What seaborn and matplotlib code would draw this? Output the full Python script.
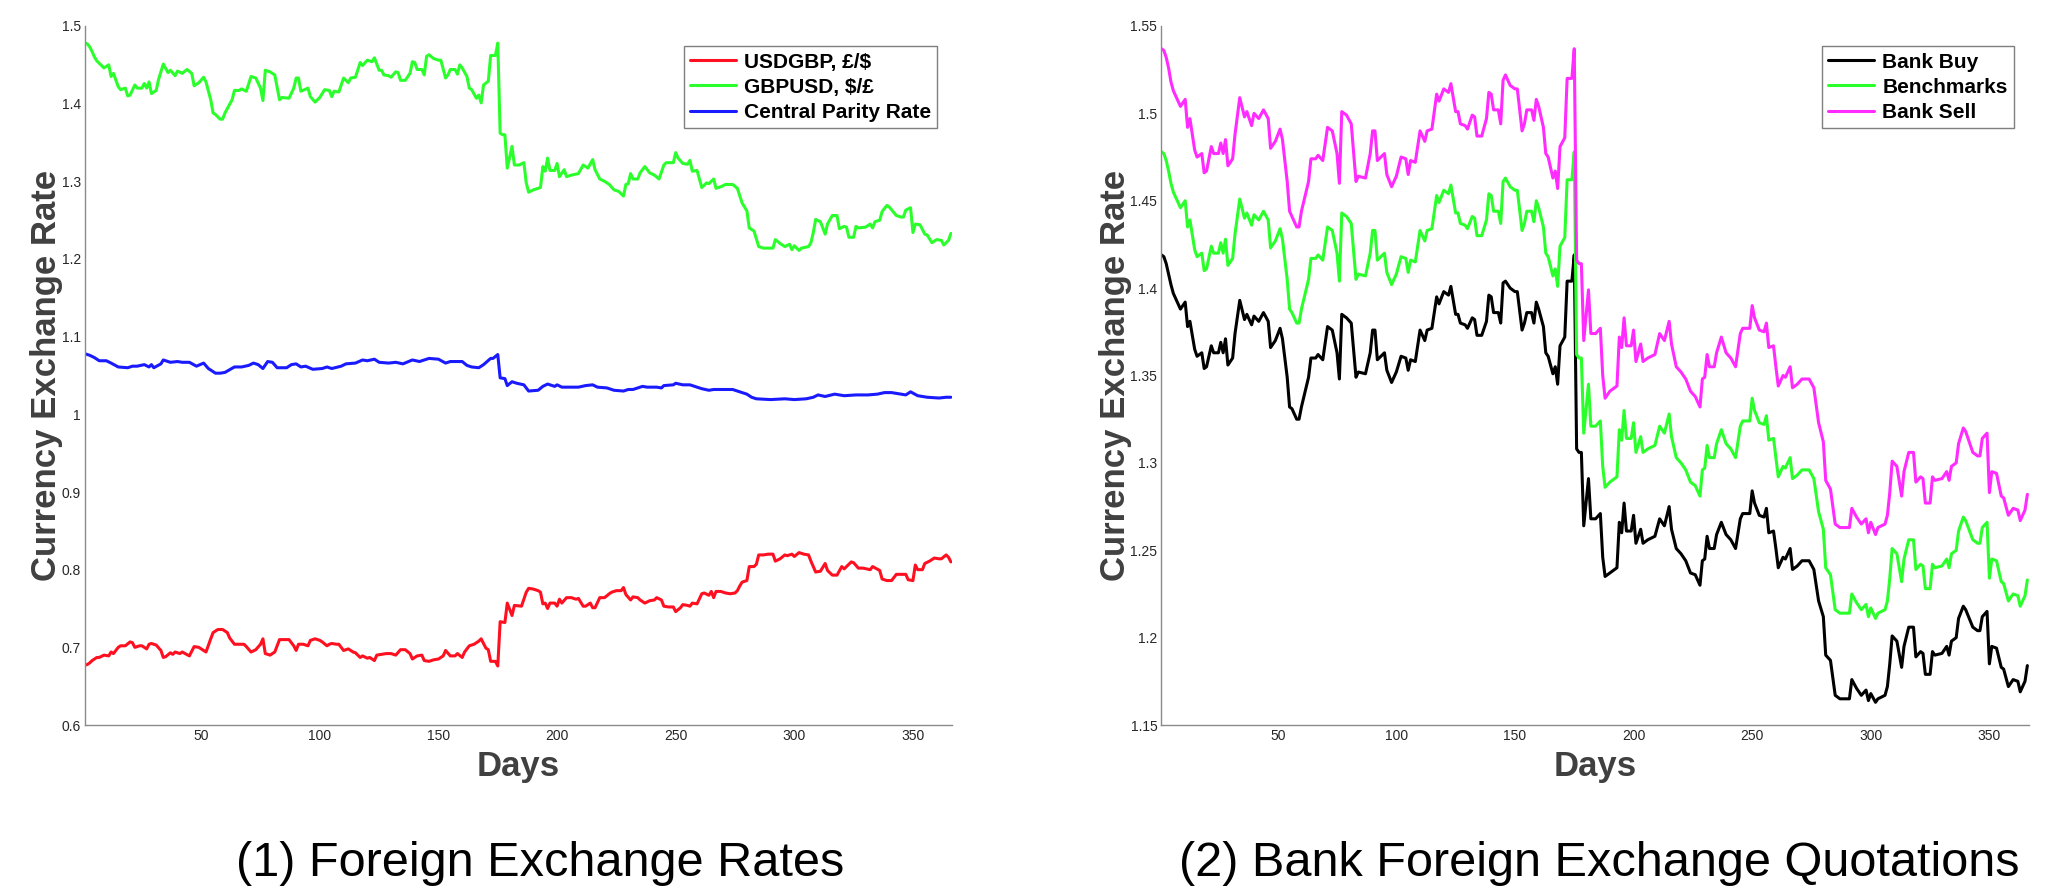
import matplotlib
matplotlib.use("Agg")
import matplotlib.pyplot as plt
import seaborn as sns

# values (day of 2016, rate)
gbpusd_days = [
    1, 2, 3, 4, 5, 6, 7, 9, 11, 12,
    13, 15, 16, 18, 19, 20, 22, 23, 25, 26,
    27, 28, 29, 31, 32, 34, 36, 37, 39, 40,
    42, 44, 46, 47, 49, 51, 52, 54, 55, 56,
    58, 59, 60, 63, 64, 66, 67, 69, 71, 73,
    75, 76, 77, 79, 81, 83, 84, 87, 89, 90,
    91, 92, 95, 96, 98, 100, 102, 104, 105, 106,
    108, 110, 112, 113, 115, 117, 118, 120, 122, 123,
    125, 126, 127, 129, 130, 132, 133, 134, 136, 138,
    139, 140, 141, 143, 144, 145, 146, 148, 150, 151,
    153, 154, 155, 157, 158, 159, 160, 162, 163, 164,
    166, 167, 168, 169, 171, 172, 174, 175, 176, 177,
    178, 179, 181, 182, 184, 186, 187, 188, 190, 193,
    194, 195, 196, 197, 199, 200, 201, 203, 204, 206,
    209, 211, 213, 215, 216, 218, 220, 222, 224, 226,
    228, 229, 230, 231, 232, 234, 235, 237, 239, 241,
    243, 245, 246, 249, 250, 251, 253, 255, 256, 257,
    259, 260, 261, 263, 264, 266, 267, 269, 271, 274,
    276, 278, 280, 281, 283, 285, 287, 289, 291, 292,
    294, 296, 298, 299, 300, 302, 303, 306, 307, 308,
    309, 311, 313, 314, 316, 318, 319, 321, 322, 323,
    325, 326, 327, 330, 332, 333, 334, 336, 337, 339,
    340, 343, 345, 346, 347, 349, 350, 351, 353, 355,
    356, 358, 360, 362, 363, 365, 366,
]
gbpusd = [
    1.478, 1.477, 1.473, 1.467, 1.460, 1.455, 1.452, 1.446, 1.450, 1.435,
    1.439, 1.422, 1.418, 1.420, 1.410, 1.411, 1.424, 1.420, 1.420, 1.426,
    1.420, 1.428, 1.413, 1.417, 1.431, 1.451, 1.440, 1.443, 1.436, 1.442,
    1.439, 1.444, 1.439, 1.423, 1.427, 1.434, 1.428, 1.405, 1.388, 1.386,
    1.380, 1.380, 1.388, 1.405, 1.417, 1.417, 1.419, 1.416, 1.435, 1.433,
    1.420, 1.404, 1.443, 1.441, 1.437, 1.405, 1.408, 1.407, 1.420, 1.433,
    1.433, 1.416, 1.420, 1.409, 1.402, 1.408, 1.418, 1.417, 1.409, 1.416,
    1.415, 1.433, 1.427, 1.433, 1.434, 1.453, 1.449, 1.456, 1.454, 1.459,
    1.443, 1.443, 1.437, 1.436, 1.434, 1.441, 1.440, 1.430, 1.430, 1.439,
    1.454, 1.453, 1.444, 1.444, 1.437, 1.461, 1.463, 1.458, 1.456, 1.456,
    1.433, 1.437, 1.444, 1.444, 1.438, 1.450, 1.446, 1.435, 1.420, 1.418,
    1.407, 1.411, 1.401, 1.424, 1.429, 1.462, 1.462, 1.478, 1.362, 1.360,
    1.360, 1.317, 1.345, 1.321, 1.321, 1.324, 1.298, 1.286, 1.289, 1.292,
    1.319, 1.313, 1.330, 1.314, 1.314, 1.323, 1.306, 1.315, 1.306, 1.308,
    1.310, 1.321, 1.317, 1.328, 1.315, 1.303, 1.300, 1.296, 1.289, 1.287,
    1.281, 1.296, 1.297, 1.310, 1.303, 1.303, 1.311, 1.319, 1.311, 1.308,
    1.303, 1.321, 1.324, 1.324, 1.337, 1.330, 1.323, 1.322, 1.327, 1.313,
    1.314, 1.303, 1.292, 1.298, 1.297, 1.303, 1.291, 1.293, 1.296, 1.296,
    1.291, 1.272, 1.262, 1.240, 1.236, 1.216, 1.214, 1.214, 1.214, 1.225,
    1.220, 1.216, 1.219, 1.212, 1.217, 1.211, 1.214, 1.216, 1.221, 1.234,
    1.251, 1.248, 1.232, 1.245, 1.256, 1.256, 1.239, 1.242, 1.241, 1.228,
    1.228, 1.242, 1.240, 1.241, 1.245, 1.240, 1.248, 1.250, 1.261, 1.269,
    1.267, 1.256, 1.254, 1.254, 1.263, 1.266, 1.234, 1.245, 1.244, 1.232,
    1.231, 1.221, 1.225, 1.224, 1.218, 1.224, 1.233,
]

usdgbp_days = [
    1, 2, 3, 4, 5, 6, 7, 9, 11, 12,
    13, 15, 16, 18, 20, 21, 22, 24, 25, 27,
    28, 29, 31, 33, 34, 35, 37, 38, 39, 41,
    42, 45, 47, 49, 52, 54, 55, 57, 59, 61,
    62, 64, 66, 68, 69, 71, 73, 75, 76, 77,
    79, 81, 83, 85, 87, 89, 90, 91, 93, 95,
    96, 98, 100, 101, 103, 104, 105, 107, 108, 110,
    112, 114, 115, 117, 118, 120, 121, 123, 124, 126,
    128, 130, 132, 134, 136, 138, 139, 141, 143, 144,
    146, 148, 150, 152, 153, 155, 157, 158, 160, 161,
    163, 165, 167, 168, 170, 171, 172, 174, 175, 176,
    178, 179, 181, 182, 185, 187, 188, 190, 192, 193,
    194, 195, 196, 197, 199, 200, 201, 202, 204, 206,
    208, 209, 211, 212, 214, 215, 216, 218, 220, 222,
    223, 225, 227, 228, 229, 231, 232, 234, 235, 237,
    239, 241, 242, 244, 245, 247, 249, 250, 252, 253,
    255, 256, 257, 259, 261, 262, 264, 265, 266, 267,
    269, 271, 273, 275, 276, 277, 278, 280, 281, 283,
    284, 285, 287, 289, 291, 292, 294, 296, 297, 299,
    300, 302, 304, 306, 307, 309, 311, 313, 314, 316,
    318, 320, 321, 324, 325, 327, 329, 332, 333, 336,
    337, 339, 341, 343, 345, 347, 348, 350, 351, 352,
    354, 355, 357, 359, 361, 362, 364, 365, 366,
]
usdgbp = [
    0.677, 0.678, 0.680, 0.683, 0.685, 0.687, 0.687, 0.690, 0.689, 0.694,
    0.692, 0.700, 0.702, 0.702, 0.707, 0.706, 0.700, 0.702, 0.702, 0.698,
    0.704, 0.705, 0.703, 0.696, 0.687, 0.688, 0.693, 0.691, 0.694, 0.692,
    0.694, 0.689, 0.701, 0.700, 0.694, 0.711, 0.719, 0.723, 0.723, 0.719,
    0.712, 0.704, 0.704, 0.704, 0.701, 0.694, 0.697, 0.704, 0.711, 0.692,
    0.690, 0.694, 0.710, 0.710, 0.710, 0.702, 0.696, 0.704, 0.704, 0.702,
    0.709, 0.711, 0.709, 0.707, 0.702, 0.704, 0.705, 0.704, 0.704, 0.696,
    0.698, 0.694, 0.693, 0.687, 0.689, 0.686, 0.687, 0.683, 0.690, 0.691,
    0.692, 0.692, 0.690, 0.697, 0.697, 0.692, 0.685, 0.689, 0.690, 0.683,
    0.682, 0.684, 0.685, 0.689, 0.696, 0.689, 0.689, 0.692, 0.687, 0.694,
    0.702, 0.704, 0.708, 0.711, 0.699, 0.697, 0.682, 0.682, 0.676, 0.733,
    0.732, 0.757, 0.741, 0.754, 0.753, 0.771, 0.776, 0.775, 0.773, 0.771,
    0.756, 0.757, 0.750, 0.757, 0.757, 0.753, 0.762, 0.757, 0.764, 0.764,
    0.762, 0.763, 0.753, 0.753, 0.757, 0.751, 0.751, 0.764, 0.764, 0.769,
    0.771, 0.773, 0.773, 0.777, 0.768, 0.761, 0.765, 0.764, 0.761, 0.757,
    0.760, 0.761, 0.764, 0.761, 0.753, 0.752, 0.752, 0.746, 0.751, 0.755,
    0.754, 0.753, 0.757, 0.756, 0.769, 0.770, 0.767, 0.772, 0.764, 0.772,
    0.772, 0.770, 0.769, 0.770, 0.773, 0.779, 0.784, 0.786, 0.804, 0.804,
    0.807, 0.819, 0.819, 0.820, 0.820, 0.811, 0.814, 0.819, 0.818, 0.820,
    0.817, 0.822, 0.820, 0.819, 0.811, 0.797, 0.798, 0.808, 0.799, 0.793,
    0.793, 0.804, 0.801, 0.810, 0.809, 0.802, 0.802, 0.800, 0.804, 0.799,
    0.788, 0.786, 0.786, 0.794, 0.794, 0.794, 0.787, 0.786, 0.806, 0.800,
    0.800, 0.808, 0.811, 0.815, 0.814, 0.814, 0.819, 0.816, 0.810,
]

parity_days = [
    1, 3, 5, 7, 10, 12, 15, 19, 21, 23,
    26, 28, 29, 30, 33, 34, 37, 40, 42, 45,
    48, 51, 53, 56, 58, 60, 64, 67, 70, 72,
    74, 76, 78, 80, 82, 86, 88, 90, 92, 94,
    97, 101, 103, 105, 109, 111, 115, 118, 120, 123,
    125, 129, 132, 135, 139, 142, 146, 150, 153, 155,
    160, 162, 164, 167, 169, 172, 173, 175, 176, 178,
    179, 181, 183, 186, 188, 192, 194, 196, 199, 200,
    202, 206, 209, 212, 215, 217, 221, 224, 228, 230,
    232, 236, 238, 242, 244, 245, 249, 250, 253, 256,
    259, 261, 264, 266, 269, 274, 276, 280, 282, 284,
    290, 296, 300, 305, 308, 310, 313, 317, 321, 326,
    331, 335, 338, 341, 345, 347, 349, 352, 356, 361,
    364, 366,
]
parity = [
    1.078, 1.076, 1.073, 1.069, 1.069, 1.066, 1.061, 1.060, 1.062, 1.062,
    1.064, 1.061, 1.064, 1.060, 1.065, 1.070, 1.067, 1.068, 1.067, 1.067,
    1.062, 1.066, 1.059, 1.053, 1.053, 1.054, 1.061, 1.061, 1.063, 1.066,
    1.064, 1.059, 1.068, 1.067, 1.060, 1.060, 1.064, 1.065, 1.061, 1.062,
    1.058, 1.059, 1.061, 1.059, 1.062, 1.065, 1.066, 1.070, 1.069, 1.071,
    1.067, 1.066, 1.067, 1.065, 1.070, 1.068, 1.072, 1.071, 1.066, 1.068,
    1.068, 1.063, 1.061, 1.060, 1.064, 1.072, 1.072, 1.077, 1.047, 1.046,
    1.037, 1.042, 1.040, 1.038, 1.030, 1.031, 1.036, 1.039, 1.036, 1.038,
    1.035, 1.035, 1.035, 1.037, 1.038, 1.035, 1.034, 1.031, 1.030, 1.032,
    1.032, 1.036, 1.035, 1.035, 1.034, 1.037, 1.038, 1.040, 1.038, 1.038,
    1.035, 1.033, 1.031, 1.032, 1.032, 1.032, 1.030, 1.026, 1.022, 1.020,
    1.019, 1.020, 1.019, 1.020, 1.022, 1.025, 1.023, 1.026, 1.024, 1.025,
    1.025, 1.026, 1.028, 1.028, 1.026, 1.025, 1.029, 1.024, 1.022, 1.021,
    1.022, 1.022,
]

# bank quotes, same days as the benchmark (gbpusd)
bank_buy = [
    1.419, 1.418, 1.414, 1.408, 1.402, 1.397, 1.394, 1.388, 1.392, 1.378,
    1.381, 1.365, 1.361, 1.363, 1.354, 1.355, 1.367, 1.363, 1.363, 1.369,
    1.363, 1.371, 1.356, 1.360, 1.374, 1.393, 1.382, 1.385, 1.379, 1.384,
    1.381, 1.386, 1.381, 1.366, 1.370, 1.377, 1.371, 1.349, 1.332, 1.331,
    1.325, 1.325, 1.332, 1.349, 1.360, 1.360, 1.362, 1.359, 1.378, 1.376,
    1.363, 1.348, 1.385, 1.383, 1.380, 1.349, 1.352, 1.351, 1.363, 1.376,
    1.376, 1.359, 1.363, 1.353, 1.346, 1.352, 1.361, 1.360, 1.353, 1.359,
    1.358, 1.376, 1.370, 1.376, 1.377, 1.395, 1.391, 1.398, 1.396, 1.401,
    1.385, 1.385, 1.380, 1.379, 1.377, 1.383, 1.382, 1.373, 1.373, 1.381,
    1.396, 1.395, 1.386, 1.386, 1.380, 1.403, 1.404, 1.400, 1.398, 1.398,
    1.376, 1.380, 1.386, 1.386, 1.380, 1.392, 1.388, 1.378, 1.363, 1.361,
    1.351, 1.355, 1.345, 1.367, 1.372, 1.404, 1.404, 1.419, 1.308, 1.306,
    1.306, 1.264, 1.291, 1.268, 1.268, 1.271, 1.246, 1.235, 1.237, 1.240,
    1.266, 1.260, 1.277, 1.261, 1.261, 1.270, 1.254, 1.262, 1.254, 1.256,
    1.258, 1.268, 1.264, 1.275, 1.262, 1.251, 1.248, 1.244, 1.237, 1.236,
    1.230, 1.244, 1.245, 1.258, 1.251, 1.251, 1.259, 1.266, 1.259, 1.256,
    1.251, 1.268, 1.271, 1.271, 1.284, 1.277, 1.270, 1.269, 1.274, 1.260,
    1.261, 1.251, 1.240, 1.246, 1.245, 1.251, 1.239, 1.241, 1.244, 1.244,
    1.239, 1.221, 1.212, 1.190, 1.187, 1.167, 1.165, 1.165, 1.165, 1.176,
    1.171, 1.167, 1.170, 1.164, 1.168, 1.163, 1.165, 1.167, 1.172, 1.185,
    1.201, 1.198, 1.183, 1.195, 1.206, 1.206, 1.189, 1.192, 1.191, 1.179,
    1.179, 1.192, 1.190, 1.191, 1.195, 1.190, 1.198, 1.200, 1.211, 1.218,
    1.216, 1.206, 1.204, 1.204, 1.212, 1.215, 1.185, 1.195, 1.194, 1.183,
    1.182, 1.172, 1.176, 1.175, 1.169, 1.175, 1.184,
]
bank_sell = [
    1.537, 1.536, 1.532, 1.526, 1.518, 1.513, 1.510, 1.504, 1.508, 1.492,
    1.497, 1.479, 1.475, 1.477, 1.466, 1.467, 1.481, 1.477, 1.477, 1.483,
    1.477, 1.485, 1.470, 1.474, 1.488, 1.509, 1.498, 1.501, 1.493, 1.500,
    1.497, 1.502, 1.497, 1.480, 1.484, 1.491, 1.485, 1.461, 1.444, 1.441,
    1.435, 1.435, 1.444, 1.461, 1.474, 1.474, 1.476, 1.473, 1.492, 1.490,
    1.477, 1.460, 1.501, 1.499, 1.494, 1.461, 1.464, 1.463, 1.477, 1.490,
    1.490, 1.473, 1.477, 1.465, 1.458, 1.464, 1.475, 1.474, 1.465, 1.473,
    1.472, 1.490, 1.484, 1.490, 1.491, 1.511, 1.507, 1.514, 1.512, 1.517,
    1.501, 1.501, 1.494, 1.493, 1.491, 1.499, 1.498, 1.487, 1.487, 1.497,
    1.512, 1.511, 1.502, 1.502, 1.494, 1.519, 1.522, 1.516, 1.514, 1.514,
    1.490, 1.494, 1.502, 1.502, 1.496, 1.508, 1.504, 1.492, 1.477, 1.475,
    1.463, 1.467, 1.457, 1.481, 1.486, 1.520, 1.520, 1.537, 1.416, 1.414,
    1.414, 1.370, 1.399, 1.374, 1.374, 1.377, 1.350, 1.337, 1.341, 1.344,
    1.372, 1.366, 1.383, 1.367, 1.367, 1.376, 1.358, 1.368, 1.358, 1.360,
    1.362, 1.374, 1.370, 1.381, 1.368, 1.355, 1.352, 1.348, 1.341, 1.338,
    1.332, 1.348, 1.349, 1.362, 1.355, 1.355, 1.363, 1.372, 1.363, 1.360,
    1.355, 1.374, 1.377, 1.377, 1.390, 1.383, 1.376, 1.375, 1.380, 1.366,
    1.367, 1.355, 1.344, 1.350, 1.349, 1.355, 1.343, 1.345, 1.348, 1.348,
    1.343, 1.323, 1.312, 1.290, 1.285, 1.265, 1.263, 1.263, 1.263, 1.274,
    1.269, 1.265, 1.268, 1.260, 1.266, 1.259, 1.263, 1.265, 1.270, 1.283,
    1.301, 1.298, 1.281, 1.295, 1.306, 1.306, 1.289, 1.292, 1.291, 1.277,
    1.277, 1.292, 1.290, 1.291, 1.295, 1.290, 1.298, 1.300, 1.311, 1.320,
    1.318, 1.306, 1.304, 1.304, 1.314, 1.317, 1.283, 1.295, 1.294, 1.281,
    1.280, 1.270, 1.274, 1.273, 1.267, 1.273, 1.282,
]

left_yticks = [0.6, 0.7, 0.8, 0.9, 1.0, 1.1, 1.2, 1.3, 1.4, 1.5]
right_yticks = [1.15, 1.2, 1.25, 1.3, 1.35, 1.4, 1.45, 1.5, 1.55]
day_ticks = [50, 100, 150, 200, 250, 300, 350]

RED, GREEN, BLUE = '#ff1020', '#2bff2b', '#1a1aff'
MAGENTA, BLACK = '#ff2bff', '#000000'
LW = 2.2

sns.set_theme(style="white")
plt.rcParams['font.family'] = ['Liberation Sans', 'DejaVu Sans']

fig = plt.figure(figsize=(20.63, 8.93), dpi=100)
ax1 = fig.add_axes([0.0412, 0.1881, 0.4203, 0.7828])
ax2 = fig.add_axes([0.5630, 0.1881, 0.4203, 0.7828])


def style_axes(ax, yticks):
    ax.set_xlim(1, 366.5)
    ax.set_ylim(yticks[0], yticks[-1])
    ax.set_xticks(day_ticks)
    ax.set_yticks(yticks)
    ax.set_yticklabels([f"{t:g}" for t in yticks])
    for side in ['top', 'right']:
        ax.spines[side].set_visible(False)
    for side in ['left', 'bottom']:
        ax.spines[side].set_color('#8a8a8a')
        ax.spines[side].set_linewidth(1.0)
    ax.tick_params(direction='in', length=6, width=1, color='#8a8a8a',
                   labelsize=10, labelcolor='#262626', pad=3)
    ax.set_xlabel('Days', fontsize=25, fontweight='bold', color='#404040', labelpad=5)
    ax.set_ylabel('Currency Exchange Rate', fontsize=25, fontweight='bold',
                  color='#404040', labelpad=-1)
    leg = ax.legend(loc='upper right', bbox_to_anchor=(0.983, 0.971),
                    prop={'weight': 'bold', 'size': 15}, frameon=True,
                    fancybox=False, framealpha=1, edgecolor='#7f7f7f',
                    borderpad=0.3, handlelength=2.2, handletextpad=0.4,
                    labelspacing=0.3, borderaxespad=0, labelcolor='black')
    leg.get_frame().set_linewidth(1.0)


# (1) foreign exchange rates
sns.lineplot(x=usdgbp_days, y=usdgbp, ax=ax1, color=RED, lw=LW, label='USDGBP, £/$')
sns.lineplot(x=gbpusd_days, y=gbpusd, ax=ax1, color=GREEN, lw=LW, label='GBPUSD, $/£')
sns.lineplot(x=parity_days, y=parity, ax=ax1, color=BLUE, lw=LW, label='Central Parity Rate')
style_axes(ax1, left_yticks)

# (2) bank quotations
sns.lineplot(x=gbpusd_days, y=bank_buy, ax=ax2, color=BLACK, lw=LW, label='Bank Buy')
sns.lineplot(x=gbpusd_days, y=gbpusd, ax=ax2, color=GREEN, lw=LW, label='Benchmarks')
sns.lineplot(x=gbpusd_days, y=bank_sell, ax=ax2, color=MAGENTA, lw=LW, label='Bank Sell')
style_axes(ax2, right_yticks)

fig.text(0.262, 0.033, '(1) Foreign Exchange Rates', ha='center', va='center',
         fontsize=35, color='black')
fig.text(0.775, 0.033, '(2) Bank Foreign Exchange Quotations', ha='center', va='center',
         fontsize=35, color='black')

fig.savefig('out.png', dpi=100, facecolor='white')
